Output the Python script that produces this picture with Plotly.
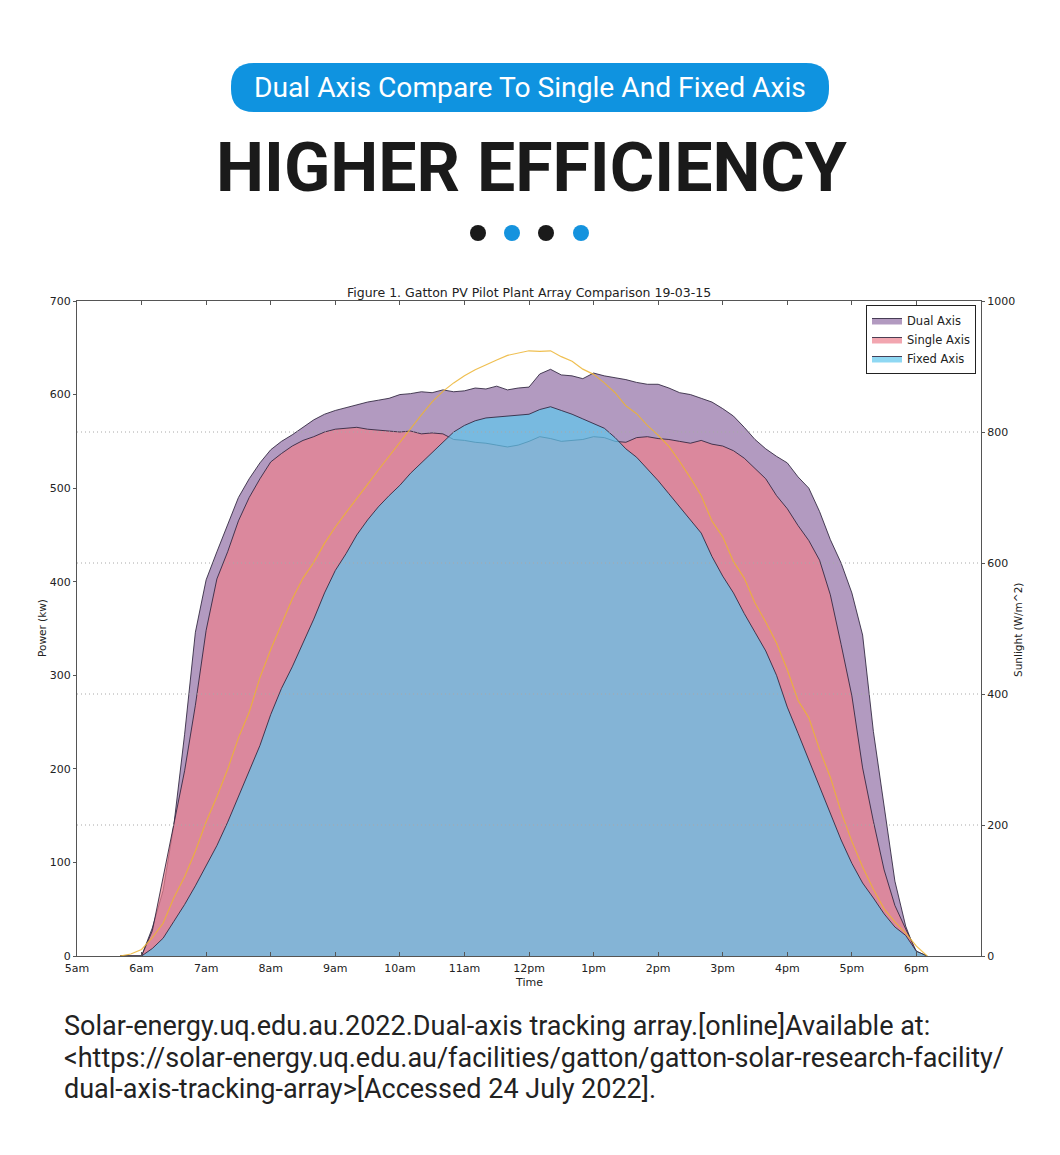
import plotly.graph_objects as go

# ---------------- data ----------------
times = ["05:40", "05:50", "06:00", "06:10", "06:20", "06:30", "06:40", "06:50",
         "07:00", "07:10", "07:20", "07:30", "07:40", "07:50", "08:00", "08:10",
         "08:20", "08:30", "08:40", "08:50", "09:00", "09:10", "09:20", "09:30",
         "09:40", "09:50", "10:00", "10:10", "10:20", "10:30", "10:40", "10:50",
         "11:00", "11:10", "11:20", "11:30", "11:40", "11:50", "12:00", "12:10",
         "12:20", "12:30", "12:40", "12:50", "13:00", "13:10", "13:20", "13:30",
         "13:40", "13:50", "14:00", "14:10", "14:20", "14:30", "14:40", "14:50",
         "15:00", "15:10", "15:20", "15:30", "15:40", "15:50", "16:00", "16:10",
         "16:20", "16:30", "16:40", "16:50", "17:00", "17:10", "17:20", "17:30",
         "17:40", "17:50", "18:00", "18:10"]

dual_axis = [0, 0, 0, 30, 70, 140, 237, 346, 402, 432, 462, 490, 510, 527, 541, 550,
             557, 565, 573, 579, 583, 586, 589, 592, 594, 596, 600, 601, 603, 602, 605, 603,
             604, 607, 606, 609, 605, 607, 608, 622, 627, 621, 620, 617, 623, 620, 618, 616,
             613, 611, 611, 607, 602, 600, 596, 592, 585, 577, 565, 552, 542, 534, 527, 512,
             500, 475, 445, 420, 388, 343, 240, 158, 80, 32, 2, 0]

single_axis = [0, 0, 0, 27, 83, 140, 198, 268, 348, 403, 432, 465, 490, 510, 528, 537,
               545, 551, 555, 560, 563, 564, 565, 563, 562, 561, 560, 561, 558, 559, 558, 552,
               551, 549, 548, 546, 544, 546, 550, 555, 553, 550, 551, 552, 555, 554, 550, 549,
               554, 555, 553, 552, 550, 548, 551, 547, 545, 540, 532, 521, 510, 492, 478, 460,
               444, 423, 386, 333, 278, 201, 144, 92, 54, 29, 5, 0]

fixed_axis = [0, 0, 0, 8, 19, 37, 55, 75, 96, 118, 143, 170, 197, 225, 258, 286,
              309, 334, 360, 388, 412, 430, 450, 466, 480, 492, 503, 516, 527, 538, 550, 560,
              567, 572, 575, 576, 577, 578, 579, 584, 587, 583, 579, 574, 569, 564, 554, 542,
              533, 521, 508, 494, 480, 466, 452, 427, 406, 388, 366, 346, 326, 300, 266, 238,
              210, 181, 153, 124, 99, 78, 62, 45, 31, 22, 5, 0]

sunlight = [0, 3, 10, 28, 50, 89, 121, 160, 205, 243, 285, 333, 372, 425, 468, 506,
            545, 577, 601, 630, 655, 677, 698, 720, 742, 763, 785, 806, 826, 846, 862, 875,
            886, 895, 903, 910, 917, 920, 924, 923, 924, 915, 908, 896, 888, 875, 860, 840,
            828, 810, 795, 778, 755, 730, 703, 664, 640, 602, 577, 539, 510, 478, 437, 390,
            364, 315, 273, 220, 175, 136, 102, 72, 52, 35, 15, 0]

hour_ticks = [5, 6, 7, 8, 9, 10, 11, 12, 13, 14, 15, 16, 17, 18]
hour_labels = ["5am", "6am", "7am", "8am", "9am", "10am", "11am", "12pm",
               "1pm", "2pm", "3pm", "4pm", "5pm", "6pm"]
power_ticks = [0, 100, 200, 300, 400, 500, 600, 700]
sun_ticks = [0, 200, 400, 600, 800, 1000]

citation_lines = [
    "Solar-energy.uq.edu.au.2022.Dual-axis tracking array.[online]Available at:",
    "&lt;https://solar-energy.uq.edu.au/facilities/gatton/gatton-solar-research-facility/",
    "dual-axis-tracking-array&gt;[Accessed 24 July 2022].",
]

hours = [int(t[:2]) + int(t[3:]) / 60 for t in times]

W, H = 1060, 1155
OFF = 8  # page margin of the html body


def px(x):
    return (x - OFF) / W


def py(y):
    return 1 - (y - OFF) / H


MPL = "DejaVu Sans"
EDGE = "rgba(45,35,60,0.85)"

fig = go.Figure()

series = [
    ("Dual Axis", dual_axis, "rgba(145,111,165,0.7)"),
    ("Single Axis", single_axis, "rgba(236,128,142,0.7)"),
    ("Fixed Axis", fixed_axis, "rgba(95,200,238,0.7)"),
]
for name, vals, col in series:
    fig.add_trace(go.Scatter(
        x=hours, y=vals, name=name, mode="lines", fill="tozeroy",
        fillcolor=col, line=dict(color=EDGE, width=1), hoverinfo="skip"))

fig.add_trace(go.Scatter(
    x=hours, y=sunlight, name="Sunlight", mode="lines", yaxis="y2",
    line=dict(color="rgba(236,180,50,0.85)", width=1.2), showlegend=False,
    hoverinfo="skip"))

axis_font = dict(family=MPL, size=11, color="#222")
fig.update_layout(
    width=W, height=H,
    margin=dict(l=0, r=0, t=0, b=0, autoexpand=False),
    paper_bgcolor="white", plot_bgcolor="white",
    xaxis=dict(domain=[px(77), px(981)], range=[5, 19], tickvals=hour_ticks,
               ticktext=hour_labels, ticks="inside", ticklen=4, tickcolor="#555",
               showline=True, linecolor="#555", linewidth=1.2, mirror="ticks",
               showgrid=False, zeroline=False, tickfont=axis_font, automargin=False,
               ticklabelstandoff=2),
    yaxis=dict(domain=[py(956), py(301)], range=[0, 700], tickvals=power_ticks,
               ticks="outside", ticklen=3, tickcolor="#555", showline=True,
               linecolor="#555", linewidth=1.2, showgrid=False, zeroline=False,
               tickfont=axis_font, automargin=False),
    yaxis2=dict(overlaying="y", side="right", range=[0, 1000], tickvals=sun_ticks,
                ticks="outside", ticklen=3, tickcolor="#555", showline=True,
                linecolor="#555", linewidth=1.2, showgrid=False, zeroline=False,
                tickfont=axis_font, automargin=False),
    legend=dict(x=px(976), y=py(305), xanchor="right", yanchor="top",
                bordercolor="#222", borderwidth=1, bgcolor="white",
                font=dict(family=MPL, size=11.5, color="#222"), tracegroupgap=0),
)

shapes = []
# dotted grid lines of the sunlight axis (drawn above the fills)
for v in sun_ticks[1:-1]:
    shapes.append(dict(type="line", xref="x", yref="y2", x0=5, x1=19, y0=v, y1=v,
                       line=dict(color="#a8a8a8", width=1, dash="1px,3px"), layer="above"))

# banner pill
x0, x1, y0, y1, r = 231, 829, 63, 112, 23
path = (f"M {px(x0 + r)},{py(y0)} L {px(x1 - r)},{py(y0)} "
        f"Q {px(x1)},{py(y0)} {px(x1)},{py(y0 + r)} L {px(x1)},{py(y1 - r)} "
        f"Q {px(x1)},{py(y1)} {px(x1 - r)},{py(y1)} L {px(x0 + r)},{py(y1)} "
        f"Q {px(x0)},{py(y1)} {px(x0)},{py(y1 - r)} L {px(x0)},{py(y0 + r)} "
        f"Q {px(x0)},{py(y0)} {px(x0 + r)},{py(y0)} Z")
shapes.append(dict(type="path", xref="paper", yref="paper", path=path,
                   fillcolor="#0f93e0", line=dict(width=0), layer="above"))

# four dots
for cx, colr in [(478, "#1a1a1a"), (512, "#1593de"), (546, "#1a1a1a"), (581, "#1593de")]:
    shapes.append(dict(type="circle", xref="paper", yref="paper",
                       x0=px(cx - 8), x1=px(cx + 8), y0=py(233 + 8), y1=py(233 - 8),
                       fillcolor=colr, line=dict(width=0)))
fig.update_layout(shapes=shapes)

ann = [
    dict(text="Dual Axis Compare To Single And Fixed Axis", x=px(530), y=py(88),
         font=dict(family="Roboto", size=28.2, color="white")),
    dict(text="HIGHER EFFICIENCY", x=px(531), y=py(168),
         font=dict(family="Roboto", size=68, color="#1a1a1a", weight=700)),
    dict(text="Figure 1. Gatton PV Pilot Plant Array Comparison 19-03-15", x=px(529), y=py(293),
         font=dict(family=MPL, size=12.5, color="#222")),
    dict(text="Time", x=px(529), y=py(982), font=dict(family=MPL, size=11, color="#222")),
    dict(text="Power (kw)", x=px(42), y=py(628), textangle=-90,
         font=dict(family=MPL, size=10.5, color="#222")),
    dict(text="Sunlight (W/m^2)", x=px(1018), y=py(630), textangle=-90,
         font=dict(family=MPL, size=10.5, color="#222")),
]
for i, line in enumerate(citation_lines):
    ann.append(dict(text=line, x=px(62), y=py(1026 + 31.5 * i), xanchor="left",
                    font=dict(family="Roboto", size=27, color="#222")))
for a in ann:
    a.setdefault("xanchor", "center")
    fig.add_annotation(xref="paper", yref="paper", showarrow=False, yanchor="middle", **a)

fig.write_html("out.html")
